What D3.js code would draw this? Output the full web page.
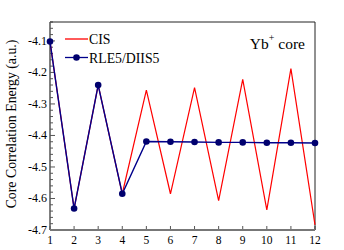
<!DOCTYPE html>
<html>
<head>
<meta charset="utf-8">
<script src="https://cdn.jsdelivr.net/npm/d3@7"></script>
<style>
  body { margin: 0; background: #fff; }
  svg text { font-family: "Liberation Serif", "DejaVu Serif", serif; }
</style>
</head>
<body>
<div id="chart"></div>
<script>
// iteration numbers on the x axis
const iterations = [1, 2, 3, 4, 5, 6, 7, 8, 9, 10, 11, 12];
// core correlation energy (a.u.) per iteration
const cisValues = [-4.102, -4.632, -4.240, -4.585, -4.256, -4.585, -4.248, -4.607, -4.222, -4.636, -4.188, -4.684];
const rleValues = [-4.102, -4.632, -4.240, -4.585, -4.419, -4.420, -4.421, -4.422, -4.422, -4.423, -4.423, -4.424];
const yTicks = [-4.1, -4.2, -4.3, -4.4, -4.5, -4.6, -4.7];
const seriesNames = ["CIS", "RLE5/DIIS5"];

const width = 344, height = 250;
const margin = { top: 22, right: 29, bottom: 20, left: 50 };

const svg = d3.select("#chart")
    .append("svg")
    .attr("width", width)
    .attr("height", height);

const x = d3.scaleLinear()
    .domain([1, 12])
    .range([margin.left, width - margin.right]);
const y = d3.scaleLinear()
    .domain([-4.7, -4.04])
    .range([height - margin.bottom, margin.top]);

// minor ticks every 0.02 on y
const minorY = d3.range(-4.7, -4.04 + 1e-9, 0.02).map(v => +v.toFixed(2));
svg.append("g")
    .attr("transform", `translate(${margin.left},0)`)
    .selectAll("line")
    .data(minorY)
    .join("line")
    .attr("x1", 0).attr("x2", d => yTicks.some(t => Math.abs(t - d) < 1e-6) ? 5 : 3)
    .attr("y1", d => y(d)).attr("y2", d => y(d))
    .attr("stroke", "#555")
    .attr("stroke-width", 1);

svg.append("g")
    .selectAll("text")
    .data(yTicks)
    .join("text")
    .attr("x", margin.left - 3)
    .attr("y", d => y(d) + 4)
    .attr("text-anchor", "end")
    .style("font-size", "12px")
    .text(d => d.toFixed(1));

// x ticks pointing up
svg.append("g")
    .selectAll("line")
    .data(iterations)
    .join("line")
    .attr("x1", d => x(d)).attr("x2", d => x(d))
    .attr("y1", height - margin.bottom).attr("y2", height - margin.bottom - 4)
    .attr("stroke", "#555");

svg.append("g")
    .selectAll("text")
    .data(iterations)
    .join("text")
    .attr("x", d => x(d))
    .attr("y", height - margin.bottom + 14)
    .attr("text-anchor", "middle")
    .style("font-size", "11.5px")
    .text(d => d);

// frame
const x0 = margin.left, x1 = width - margin.right;
const y0 = margin.top, y1 = height - margin.bottom;
svg.append("line").attr("x1", x0).attr("x2", x1).attr("y1", y0).attr("y2", y0).attr("stroke", "#222");
svg.append("line").attr("x1", x1).attr("x2", x1).attr("y1", y0).attr("y2", y1).attr("stroke", "#222");
svg.append("line").attr("x1", x0).attr("x2", x0).attr("y1", y0).attr("y2", y1).attr("stroke", "#555").attr("stroke-width", 1.5);
svg.append("line").attr("x1", x0).attr("x2", x1).attr("y1", y1).attr("y2", y1).attr("stroke", "#777").attr("stroke-width", 2);

const line = d3.line()
    .x((d, i) => x(iterations[i]))
    .y(d => y(d));

svg.append("path")
    .datum(cisValues)
    .attr("d", line)
    .attr("fill", "none")
    .attr("stroke", "#ff0000")
    .attr("stroke-width", 1.2);

svg.append("path")
    .datum(rleValues)
    .attr("d", line)
    .attr("fill", "none")
    .attr("stroke", "#00008b")
    .attr("stroke-width", 1.4);

svg.append("g")
    .selectAll("circle")
    .data(rleValues)
    .join("circle")
    .attr("cx", (d, i) => x(iterations[i]))
    .attr("cy", d => y(d))
    .attr("r", 3.3)
    .attr("fill", "#00006e");

// legend
const legend = svg.append("g").attr("transform", "translate(65,39)");
const colors = ["#ff0000", "#00008b"];
seriesNames.forEach((name, i) => {
    const g = legend.append("g").attr("transform", `translate(0,${i * 18.5})`);
    g.append("line").attr("x1", 0).attr("x2", 23).attr("y1", 0).attr("y2", 0)
        .attr("stroke", colors[i]).attr("stroke-width", 1.3);
    if (i === 1) {
        g.append("circle").attr("cx", 11.5).attr("cy", 0).attr("r", 3.3).attr("fill", "#00006e");
    }
    g.append("text").attr("x", 24).attr("y", 5)
        .style("font-size", "13.8px")
        .text(name);
});

// annotation
const note = svg.append("text")
    .attr("x", 305)
    .attr("y", 49)
    .attr("text-anchor", "end")
    .style("font-size", "15.5px");
note.append("tspan").text("Yb");
note.append("tspan").attr("dy", -8).style("font-size", "10px").text("+");
note.append("tspan").attr("dy", 8).text(" core");

// y axis title
svg.append("text")
    .attr("transform", `translate(16,124) rotate(-90)`)
    .attr("text-anchor", "middle")
    .style("font-size", "13.8px")
    .text("Core Correlation Energy (a.u.)");
</script>
</body>
</html>
